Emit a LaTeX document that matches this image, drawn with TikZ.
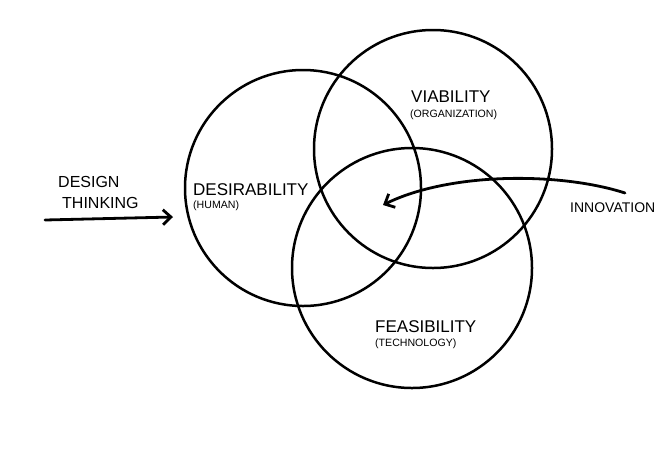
\documentclass[tikz,border=0pt]{standalone}
\usepackage{fontspec}
\setmainfont{Liberation Sans}
\usetikzlibrary{arrows.meta}
\tikzset{
  ring/.style={draw, circle, line width=2.5pt, inner sep=0, minimum size=#1},
  bigtxt/.style={anchor=base west, inner sep=0, font=\fontsize{17}{20}\selectfont},
  smalltxt/.style={anchor=base west, inner sep=0, font=\fontsize{10.6}{12}\selectfont},
  hand/.style={line width=2.8pt, line cap=round, -{Straight Barb[length=8pt,width=15pt]}}
}
\begin{document}
\begin{tikzpicture}[x=1pt,y=-1pt]
\useasboundingbox (0,0) rectangle (666,448);
% the three circles
\node[ring=236pt] (desir) at (303,188) {};
\node[ring=238pt] (viab) at (433,149) {};
\node[ring=240pt] (feas) at (412,268) {};
% labels
\node[bigtxt] (desirtxt) at (193,195) {DESIRABILITY};
\node[smalltxt] (human) at (193,208) {(HUMAN)};
\node[bigtxt] (viabtxt) at (411,102) {VIABILITY};
\node[smalltxt] (orga) at (410,117) {(ORGANIZATION)};
\node[bigtxt] (feastxt) at (375,332) {FEASIBILITY};
\node[smalltxt] (techno) at (375,346) {(TECHNOLOGY)};
\node[bigtxt, font=\fontsize{16}{19}\selectfont] (design) at (58,187) {DESIGN};
\node[bigtxt, font=\fontsize{16}{19}\selectfont] (thinking) at (62,208) {THINKING};
\node[bigtxt, font=\fontsize{14}{17}\selectfont] (innov) at (570,212) {INNOVATION};
% arrows
\coordinate (dtstart) at (45,220);
\coordinate (dtend) at (173,217);
\draw[hand] (dtstart) -- (dtend);
\coordinate (instart) at (625,193);
\coordinate (inend) at (383,205);
\draw[hand] (instart) .. controls (560,172) and (450,172) .. (inend);
\end{tikzpicture}
\end{document}
